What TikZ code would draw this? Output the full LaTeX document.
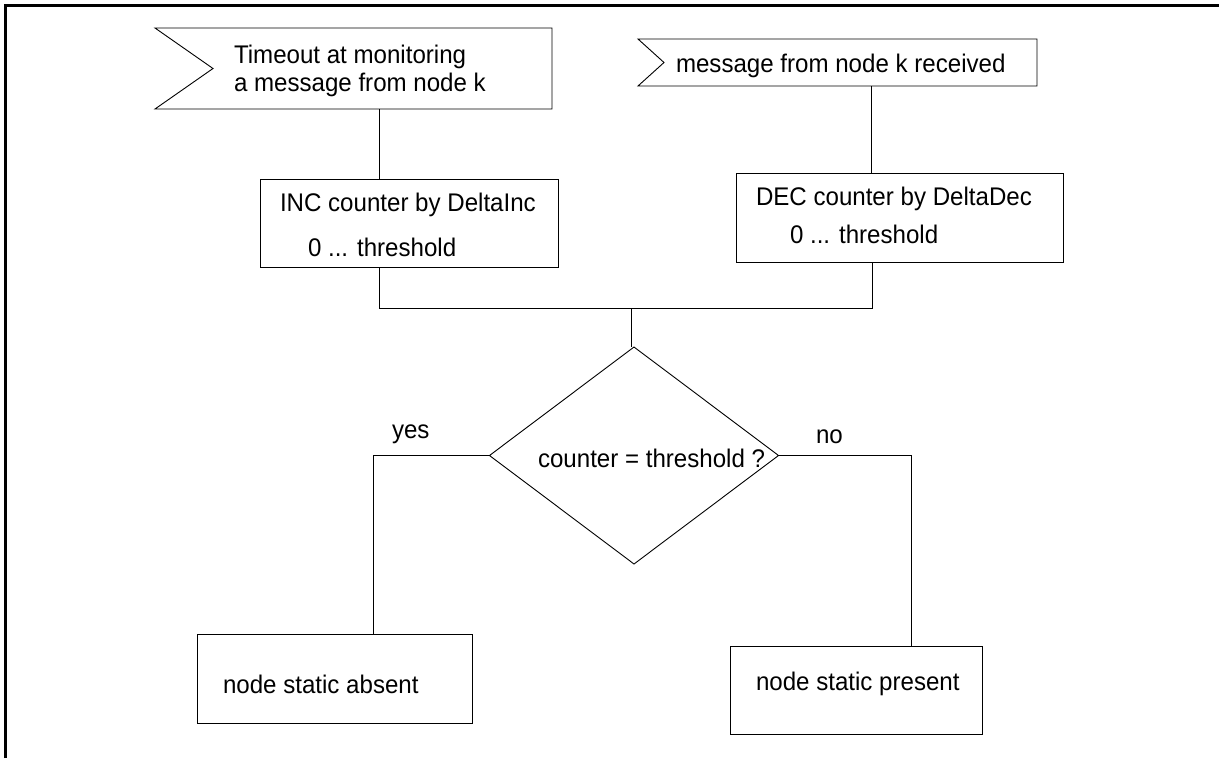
\documentclass[tikz,border=0pt]{standalone}
\usepackage{fontspec}
\setmainfont{Liberation Sans}[FakeStretch=0.945]
\usetikzlibrary{shapes.geometric}
\begin{document}
\begin{tikzpicture}[x=1pt,y=-1pt,
  every node/.style={font=\fontsize{25.5}{28}\selectfont},
  ln/.style={line width=0.9pt},
  boxnode/.style={draw, line width=0.9pt, rectangle, inner sep=0pt, outer sep=0pt},
  txt/.style={anchor=base west, inner sep=0pt, outer sep=0pt},
  frame/.style={line width=2.2pt}]
\useasboundingbox (0,0) rectangle (1229,758);
% frame
\draw[frame] (5.5,758) -- (5.5,5.5) -- (1219,5.5);
% flag 1
\draw[ln] (155,28) -- (552,28) -- (552,109) -- (155,109) -- (213,68.5) -- cycle;
\coordinate (f1b) at (379,109);
\node[txt] (t1a) at (234,63) {Timeout at monitoring};
\node[txt] (t1b) at (234,91.5) {a message from node k};
% flag 2
\draw[ln] (638,39) -- (1037,39) -- (1037,86) -- (638,86) -- (664,62.5) -- cycle;
\coordinate (f2b) at (871,86);
\node[txt] (t2) at (676,72) {message from node k received};
% counters
\node[boxnode, minimum width=298pt, minimum height=88pt] (inc) at (409,223) {};
\node[txt] (inca) at (280,211) {INC counter by DeltaInc};
\node[txt] (incb) at (308,256) {0 ... threshold};
\node[boxnode, minimum width=327pt, minimum height=89pt] (dec) at (899.5,217.5) {};
\node[txt] (deca) at (756,205) {DEC counter by DeltaDec};
\node[txt] (decb) at (790,243) {0 ... threshold};
% decision
\node[draw, ln, diamond, minimum width=289pt, minimum height=217pt, inner sep=0pt, outer sep=0pt] (dia) at (634,455.5) {};
\node[txt] (cond) at (538,467) {counter = threshold ?};
\node[txt] (yes) at (392,438) {yes};
\node[txt] (no) at (816,443) {no};
% results
\node[boxnode, minimum width=275pt, minimum height=89pt] (abs) at (334.5,678.5) {};
\node[txt] (absT) at (223,693) {node static absent};
\node[boxnode, minimum width=252pt, minimum height=88pt] (pres) at (856,690) {};
\node[txt] (presT) at (756,690) {node static present};
% connectors
\coordinate (j1) at (379,308);
\coordinate (j2) at (872,308);
\coordinate (j3) at (631,308);
\coordinate (yc) at (373,0);
\coordinate (nc) at (911,0);
\draw[ln] (f1b) -- (f1b |- inc.north);
\draw[ln] (f2b) -- (f2b |- dec.north);
\draw[ln] (j1 |- inc.south) -- (j1) -- (j2) -- (j2 |- dec.south);
\draw[ln] (j3) -- (j3 |- dia.north);
\draw[ln] (dia.west) -- (dia.west -| yc) -- (yc |- abs.north);
\draw[ln] (dia.east) -- (dia.east -| nc) -- (nc |- pres.north);
\end{tikzpicture}
\end{document}
